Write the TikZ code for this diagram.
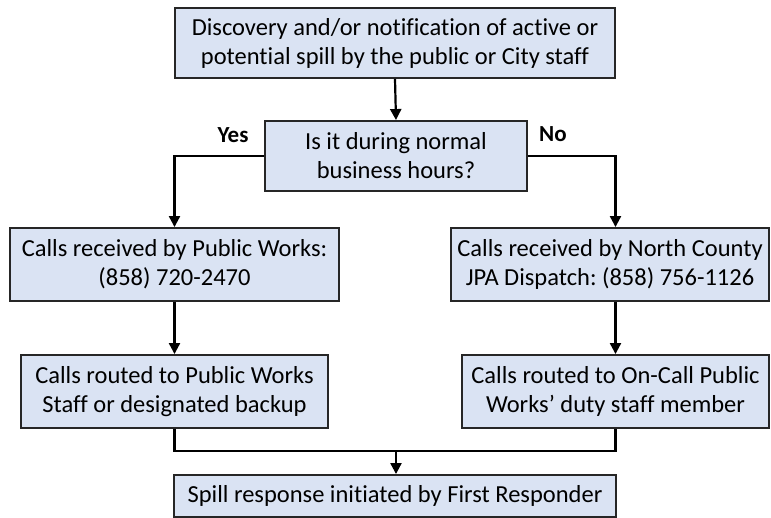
\documentclass[tikz,border=0pt]{standalone}
\usepackage{fontspec}
\setmainfont{Carlito}[Ligatures={NoCommon}]
\usetikzlibrary{arrows.meta}
\frenchspacing
\definecolor{boxfill}{HTML}{DAE3F3}
\definecolor{boxline}{HTML}{262626}
\tikzset{
  stepbox/.style={draw=boxline, fill=boxfill, line width=1.9pt, align=center,
    inner sep=0pt, font=\fontsize{24.5}{29}\selectfont},
  link/.style={draw=black, line width=2.2pt},
  arr/.style={link, -{Triangle[length=11pt,width=11pt]}},
  answer/.style={font=\fontsize{23}{27}\selectfont\bfseries}
}
\begin{document}
\begin{tikzpicture}[x=1pt,y=-1pt]
\useasboundingbox (0,0) rectangle (771,518);
\node[stepbox, minimum width=440pt, minimum height=70pt] (disc) at (395,43)
  {Discovery and/or notification of active or\\potential spill by the public or City staff};
\node[stepbox, minimum width=262pt, minimum height=70pt] (hours) at (396,156)
  {Is it during normal\\business hours?};
\node[stepbox, minimum width=329pt, minimum height=73pt] (pw) at (174.5,264.5)
  {Calls received by Public Works:\\(858) 720-2470};
\node[stepbox, minimum width=318pt, minimum height=73pt] (jpa) at (610,264.5)
  {Calls received by North County\\JPA Dispatch: (858) 756-1126};
\node[stepbox, minimum width=307pt, minimum height=73pt] (staff) at (174.5,391.5)
  {Calls routed to Public Works\\Staff or designated backup};
\node[stepbox, minimum width=307pt, minimum height=73pt] (oncall) at (615.5,391.5)
  {Calls routed to On-Call Public\\Works’ duty staff member};
\node[stepbox, minimum width=442pt, minimum height=42pt] (resp) at (395,496)
  {Spill response initiated by First Responder};
\node[answer] (yes) at (233,135) {Yes};
\node[answer] (no) at (553,134) {No};
\coordinate (join) at (396,451);
\draw[arr] (disc.south) -- (hours.north);
\draw[arr] (hours.west) -| (pw.north);
\draw[arr] (hours.east) -| (oncall.north |- jpa.north);
\draw[arr] (oncall.north |- jpa.south) -- (oncall.north);
\draw[arr] (pw.south) -- (staff.north);
\draw[link] (staff.south) |- (join) -| (oncall.south);
\draw[arr] (join) -- (join |- resp.north);
\end{tikzpicture}
\end{document}
